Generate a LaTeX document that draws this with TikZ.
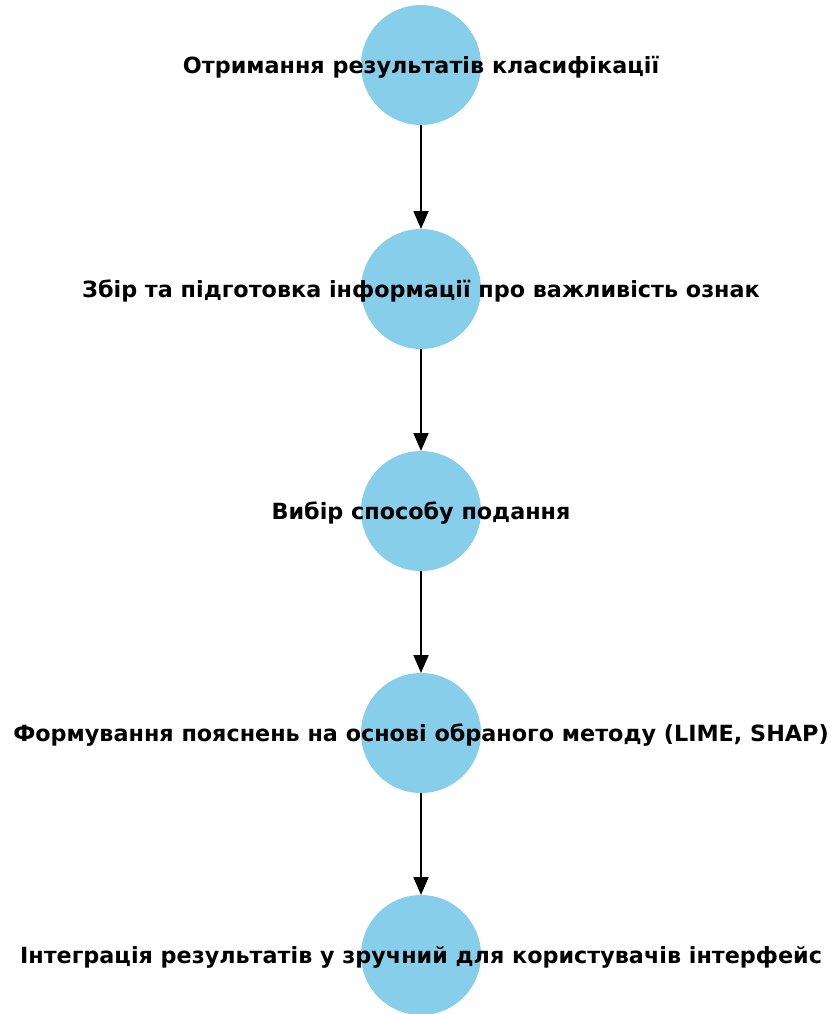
\documentclass[tikz,border=0pt]{standalone}
\usepackage{fontspec}
\setmainfont{DejaVu Sans}
\usetikzlibrary{arrows.meta}
\definecolor{skyblue}{HTML}{87CEEB}
\tikzset{
  stage/.style={circle, fill=skyblue, draw=none, minimum size=120pt, inner sep=0pt, outer sep=0pt},
  stagetext/.style={font=\fontsize{22.3}{26}\selectfont\bfseries, text=black, inner sep=0pt, yshift=-2pt},
  flow/.style={line width=1.8pt, -{Triangle[length=18pt,width=15pt]}},
}
\begin{document}
\begin{tikzpicture}[x=1pt,y=-1pt]
  \useasboundingbox (0,0) rectangle (832,1014);
  \begin{scope}
    \clip (0,0) rectangle (832,1014);
    \node[stage] (c1) at (421,65) {};
    \node[stage] (c2) at (421,289) {};
    \node[stage] (c3) at (421,511) {};
    \node[stage] (c4) at (421,733) {};
    \node[stage] (c5) at (421,955) {};
  \end{scope}
  \node[stagetext] (t1) at (421,65) {Отримання результатів класифікації};
  \node[stagetext] (t2) at (421,289) {Збір та підготовка інформації про важливість ознак};
  \node[stagetext] (t3) at (421,511) {Вибір способу подання};
  \node[stagetext] (t4) at (421,733) {Формування пояснень на основі обраного методу (LIME, SHAP)};
  \node[stagetext] (t5) at (421,955) {Інтеграція результатів у зручний для користувачів інтерфейс};
  \draw[flow] (c1.south) -- (c2.north);
  \draw[flow] (c2.south) -- (c3.north);
  \draw[flow] (c3.south) -- (c4.north);
  \draw[flow] (c4.south) -- (c5.north);
\end{tikzpicture}
\end{document}
